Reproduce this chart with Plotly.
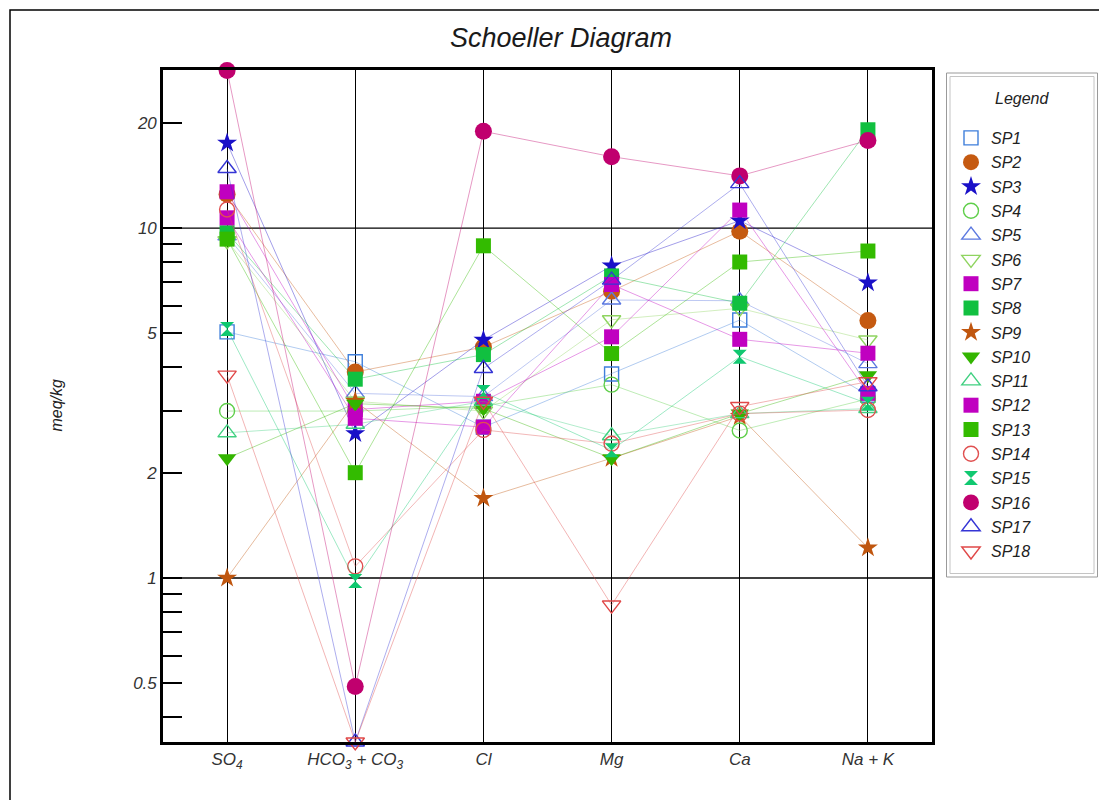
import plotly.graph_objects as go

# Ion axis categories
categories = ["SO<sub>4</sub>", "HCO<sub>3</sub> + CO<sub>3</sub>", "Cl", "Mg", "Ca", "Na + K"]
samples = ["SP1", "SP2", "SP3", "SP4", "SP5", "SP6", "SP7", "SP8", "SP9",
           "SP10", "SP11", "SP12", "SP13", "SP14", "SP15", "SP16", "SP17", "SP18"]

# Concentrations (meq/kg), one list per ion, ordered SP1..SP18
so4 = [5.05, 12.5, 17.5, 3.0, 9.5, 9.2, 12.7, 9.7, 1.0,
       2.2, 2.6, 10.7, 9.3, 11.3, 5.15, 28.2, 14.8, 3.8]
hco3 = [4.15, 3.88, 2.59, 3.0, 3.37, 3.2, 3.03, 3.7, 3.2,
        3.15, 2.75, 2.86, 2.0, 1.08, 0.98, 0.49, 0.34, 0.34]
cl = [2.7, 4.57, 4.79, 3.1, 3.3, 3.0, 3.2, 4.35, 1.69,
      3.05, 3.2, 2.7, 8.9, 2.65, 3.4, 18.9, 3.97, 3.2]
mg = [3.83, 6.6, 7.8, 3.57, 6.23, 5.47, 4.89, 7.3, 2.2,
      2.2, 2.55, 6.9, 4.38, 2.42, 2.32, 16.0, 7.1, 0.837]
ca = [5.46, 9.8, 10.5, 2.64, 6.2, 5.9, 11.26, 6.1, 2.9,
      2.95, 2.95, 4.81, 8.0, 2.95, 4.29, 14.1, 13.4, 3.09]
nak = [3.33, 5.44, 6.98, 3.25, 4.1, 4.79, 3.37, 19.1, 1.22,
       3.8, 3.05, 4.39, 8.6, 3.02, 3.15, 17.8, 3.52, 3.64]

# Marker styling per sample
symbols = ["square-open", "circle", "star", "circle-open", "triangle-up-open", "triangle-down-open",
           "square", "square", "star", "triangle-down", "triangle-up-open", "square",
           "square", "circle-open", "hourglass", "circle", "triangle-up-open", "triangle-down-open"]
colors = ["#3f7fdb", "#c55a11", "#1a10c8", "#5fcf4a", "#5b78e0", "#8fd460",
          "#c000c0", "#11c040", "#c0560f", "#33b500", "#40d080", "#c000c0",
          "#33bb00", "#e05050", "#10c870", "#c0006e", "#3535d5", "#e04848"]
sizes = {"circle": 17, "circle-open": 15, "square": 15, "square-open": 14, "star": 15,
         "triangle-up-open": 16, "triangle-down-open": 16, "triangle-down": 16, "hourglass": 14}

W, H = 1099, 800
PL, PR, PT, PB = 163, 932, 70, 742  # plot area in pixels


def px_x(px):
    return (px - PL) / (PR - PL)


def px_y(py):
    return (PB - py) / (PB - PT)


def rgba(hex_color, a):
    h = hex_color.lstrip("#")
    return "rgba(%d,%d,%d,%.2f)" % (int(h[0:2], 16), int(h[2:4], 16), int(h[4:6], 16), a)


fig = go.Figure()
xs = list(range(len(categories)))

# Decade grid lines at 1 and 10
for gv in (1, 10):
    fig.add_trace(go.Scatter(x=[-0.5, 5.5], y=[gv, gv], mode="lines",
                             line=dict(color="black", width=1.3),
                             hoverinfo="skip", showlegend=False))

for i, name in enumerate(samples):
    vals = [so4[i], hco3[i], cl[i], mg[i], ca[i], nak[i]]
    sym = symbols[i]
    col = colors[i]
    is_open = sym.endswith("-open")
    marker = dict(symbol=sym, size=sizes[sym], color=col,
                  line=dict(color=col, width=1.4 if is_open else 0))
    fig.add_trace(go.Scatter(x=xs, y=vals, mode="lines+markers", name=name,
                             line=dict(color=rgba(col, 0.45), width=0.9),
                             marker=marker, cliponaxis=False, showlegend=False))
    # legend entry (marker only)
    fig.add_trace(go.Scatter(x=[None], y=[None], mode="markers", name=name,
                             marker=marker, legendgroup=name, showlegend=True))

font_family = "Arial, Liberation Sans, sans-serif"

fig.update_layout(
    width=W, height=H,
    margin=dict(l=PL, r=W - PR, t=PT, b=H - PB, pad=0),
    paper_bgcolor="white", plot_bgcolor="white",
    font=dict(family=font_family, color="#222"),
    title=dict(text="Schoeller Diagram", x=561 / W, xref="container", xanchor="center",
               y=1 - 38 / H, yref="container", yanchor="middle",
               font=dict(size=27, style="italic", color="#1a1a1a")),
    showlegend=True,
    legend=dict(x=px_x(951), y=px_y(121), xanchor="left", yanchor="top",
                bgcolor="rgba(0,0,0,0)", borderwidth=0,
                traceorder="grouped", tracegroupgap=0.5,
                font=dict(size=16, style="italic", color="#222"),
                itemclick=False, itemdoubleclick=False),
    xaxis=dict(range=[-0.5, 5.5], tickmode="array", tickvals=xs, ticktext=categories,
               showgrid=True, gridcolor="black", gridwidth=1.3, ticks="",
               showline=True, linecolor="black", linewidth=2.6, mirror=True,
               zeroline=False, tickfont=dict(size=17, style="italic", color="#333")),
    yaxis=dict(type="log", range=[-0.4686, 1.4518], tickmode="array",
               tickvals=[0.5, 1, 2, 5, 10, 20], ticktext=["0.5", "1", "2", "5", "10", "20"],
               ticks="inside", ticklen=19, tickwidth=1.6, tickcolor="black",
               showgrid=False, zeroline=False,
               showline=True, linecolor="black", linewidth=2.6, mirror=True,
               tickfont=dict(size=17, style="italic", color="#333"),
               minor=dict(tickmode="array", tickvals=[0.4, 0.6, 0.7, 0.8, 0.9, 3, 4, 6, 7, 8, 9],
                          ticks="inside", ticklen=19, tickwidth=1.6, tickcolor="black",
                          showgrid=False)),
    annotations=[
        dict(text="meq/kg", x=px_x(45), y=px_y(405), xref="paper", yref="paper",
             showarrow=False, textangle=-90, font=dict(size=16, style="italic", color="#222")),
        dict(text="Legend", x=px_x(1022), y=px_y(99), xref="paper", yref="paper",
             showarrow=False, xanchor="center", yanchor="middle",
             font=dict(size=16, style="italic", color="#222")),
    ],
    shapes=[
        # page border
        dict(type="rect", xref="paper", yref="paper", x0=px_x(10), y0=px_y(812),
             x1=px_x(1112), y1=px_y(10), line=dict(color="black", width=1.5)),
        # legend double frame
        dict(type="rect", xref="paper", yref="paper", x0=px_x(946.5), y0=px_y(577),
             x1=px_x(1097.5), y1=px_y(73), line=dict(color="#9a9a9a", width=1)),
        dict(type="rect", xref="paper", yref="paper", x0=px_x(950), y0=px_y(573.5),
             x1=px_x(1094), y1=px_y(76.5), line=dict(color="#c4c4c4", width=1)),
    ],
)

fig.write_html("out.html", post_script="document.body.style.margin='0';")
